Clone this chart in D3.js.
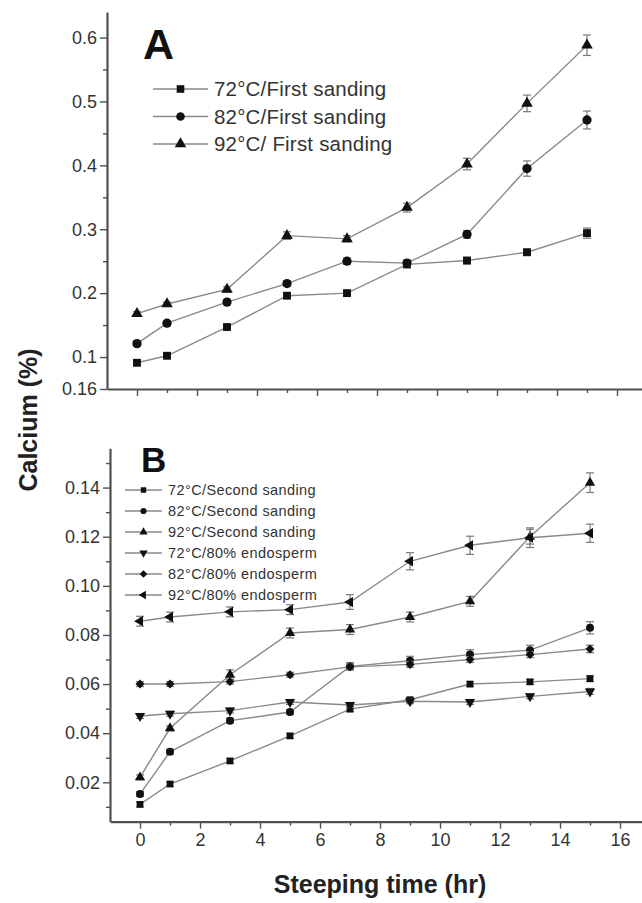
<!DOCTYPE html>
<html>
<head>
<meta charset="utf-8">
<script src="https://cdn.jsdelivr.net/npm/d3@7"></script>
<style>
  body { margin: 0; background: #fff; }
  svg { display: block; font-family: "Liberation Sans", Arial, sans-serif; }
</style>
</head>
<body>
<svg id="chart" width="642" height="903"></svg>
<script>
// steeping hours sampled
const hours = [0, 1, 3, 5, 7, 9, 11, 13, 15];

// panel A: first sanding
const labelsA = ["72°C/First sanding", "82°C/First sanding", "92°C/ First sanding"];
const a72 = [0.091, 0.102, 0.147, 0.196, 0.200, 0.245, 0.251, 0.264, 0.294];
const a82 = [0.121, 0.153, 0.186, 0.215, 0.250, 0.247, 0.292, 0.395, 0.471];
const a92 = [0.168, 0.183, 0.206, 0.290, 0.285, 0.334, 0.402, 0.497, 0.588];
const errA72 = [0.003, 0.003, 0.003, 0.004, 0.004, 0.005, 0.005, 0.005, 0.008];
const errA82 = [0.004, 0.004, 0.004, 0.004, 0.005, 0.005, 0.006, 0.012, 0.014];
const errA92 = [0.003, 0.003, 0.004, 0.006, 0.005, 0.007, 0.009, 0.013, 0.016];
const yTicksA = [0.05, 0.1, 0.2, 0.3, 0.4, 0.5, 0.6];
const yTickLabelsA = ["0.16", "0.1", "0.2", "0.3", "0.4", "0.5", "0.6"];
const yMinorA = [0.15, 0.25, 0.35, 0.45, 0.55];

// panel B: second sanding and 80% endosperm
const labelsB = ["72°C/Second sanding", "82°C/Second sanding", "92°C/Second sanding",
                 "72°C/80% endosperm", "82°C/80% endosperm", "92°C/80% endosperm"];
const b72s = [0.011, 0.0193, 0.0287, 0.0389, 0.0498, 0.0536, 0.0600, 0.0609, 0.0622];
const b82s = [0.0152, 0.0324, 0.0451, 0.0486, 0.0672, 0.0695, 0.0720, 0.0738, 0.0829];
const b92s = [0.022, 0.042, 0.0638, 0.0808, 0.0822, 0.0873, 0.0937, 0.120, 0.142];
const b72e = [0.047, 0.0479, 0.0492, 0.0527, 0.0515, 0.053, 0.0527, 0.055, 0.057];
const b82e = [0.060, 0.060, 0.061, 0.0638, 0.067, 0.068, 0.070, 0.0720, 0.0743];
const b92e = [0.0856, 0.0873, 0.0894, 0.0903, 0.0934, 0.110, 0.1165, 0.1196, 0.1214];
const errB72s = [0.001, 0.001, 0.001, 0.001, 0.001, 0.001, 0.001, 0.001, 0.0012];
const errB82s = [0.001, 0.001, 0.001, 0.001, 0.0015, 0.0018, 0.002, 0.002, 0.0025];
const errB92s = [0.001, 0.001, 0.002, 0.002, 0.002, 0.002, 0.002, 0.003, 0.004];
const errB72e = [0.001, 0.001, 0.001, 0.001, 0.001, 0.001, 0.001, 0.001, 0.0012];
const errB82e = [0.001, 0.001, 0.001, 0.001, 0.0012, 0.0012, 0.0012, 0.0012, 0.0015];
const errB92e = [0.002, 0.002, 0.002, 0.002, 0.003, 0.0035, 0.0037, 0.004, 0.0037];
const yTicksB = [0.02, 0.04, 0.06, 0.08, 0.10, 0.12, 0.14];
const yMinorB = [0.01, 0.03, 0.05, 0.07, 0.09, 0.11, 0.13, 0.15];

const xMajor = [0, 2, 4, 6, 8, 10, 12, 14, 16];
const xMinor = [1, 3, 5, 7, 9, 11, 13, 15];

const lineColor = '#8a8a8a';
const axisColor = '#505050';
const textColor = '#333';

const svg = d3.select('#chart');

function markerPath(type, size) {
    if (type === 'circle') return d3.symbol(d3.symbolCircle, size)();
    if (type === 'square' || type === 'diamond') return d3.symbol(d3.symbolSquare, size)();
    return d3.symbol(d3.symbolTriangle, size)();
}
function markerRotate(type) {
    if (type === 'down') return 180;
    if (type === 'left') return -90;
    if (type === 'diamond') return 45;
    return 0;
}

function drawAxes(g, x, y, opts) {
    const yAxis = g.append('g')
        .attr('transform', `translate(${x.range()[0]},0)`)
        .call(d3.axisLeft(y).tickValues(opts.yMajor).tickSize(7).tickSizeOuter(0)
            .tickPadding(3).tickFormat((d, i) => opts.yLabels[i]));
    g.append('g')
        .attr('transform', `translate(${x.range()[0]},0)`)
        .call(d3.axisLeft(y).tickValues(opts.yMinor).tickSize(4).tickFormat(''))
        .select('.domain').remove();

    const xAxis = g.append('g')
        .attr('transform', `translate(0,${y.range()[0]})`)
        .call(d3.axisBottom(x).tickValues(xMajor).tickSize(7).tickSizeOuter(0)
            .tickPadding(5).tickFormat(opts.xLabels ? d3.format('d') : ''));
    g.append('g')
        .attr('transform', `translate(0,${y.range()[0]})`)
        .call(d3.axisBottom(x).tickValues(xMinor).tickSize(4).tickFormat(''))
        .select('.domain').remove();

    g.selectAll('.domain').attr('stroke', axisColor).attr('stroke-width', 2.2);
    g.selectAll('.tick line').attr('stroke', axisColor).attr('stroke-width', 1.4);
    g.selectAll('.tick text')
        .style('font-size', '18px')
        .style('fill', textColor)
        .style('font-family', '"Liberation Sans", Arial, sans-serif');
}

function drawSeries(g, x, y, values, errs, type, size) {
    const pts = hours.map((h, i) => ({h: h, v: values[i], e: errs[i]}));
    const line = d3.line().x(d => x(d.h)).y(d => y(d.v));
    g.append('path')
        .datum(pts)
        .attr('d', line)
        .attr('fill', 'none')
        .attr('stroke', lineColor)
        .attr('stroke-width', 1.4);

    const eb = g.append('g').attr('stroke', '#7a7a7a').attr('stroke-width', 1.2);
    eb.selectAll('.eb').data(pts).join('line')
        .attr('x1', d => x(d.h)).attr('x2', d => x(d.h))
        .attr('y1', d => y(d.v - d.e)).attr('y2', d => y(d.v + d.e));
    eb.selectAll('.capTop').data(pts).join('line')
        .attr('x1', d => x(d.h) - 4).attr('x2', d => x(d.h) + 4)
        .attr('y1', d => y(d.v + d.e)).attr('y2', d => y(d.v + d.e));
    eb.selectAll('.capBot').data(pts).join('line')
        .attr('x1', d => x(d.h) - 4).attr('x2', d => x(d.h) + 4)
        .attr('y1', d => y(d.v - d.e)).attr('y2', d => y(d.v - d.e));

    g.append('g').selectAll('path').data(pts).join('path')
        .attr('d', markerPath(type, size))
        .attr('transform', d => `translate(${x(d.h)},${y(d.v)}) rotate(${markerRotate(type)})`)
        .attr('fill', '#111');
}

function drawLegend(g, labels, types, opts) {
    labels.forEach((lab, i) => {
        const yy = opts.top + i * opts.step;
        g.append('line')
            .attr('x1', opts.x1).attr('x2', opts.x2)
            .attr('y1', yy).attr('y2', yy)
            .attr('stroke', lineColor).attr('stroke-width', 1.4);
        g.append('path')
            .attr('d', markerPath(types[i], opts.size))
            .attr('transform', `translate(${(opts.x1 + opts.x2) / 2},${yy}) rotate(${markerRotate(types[i])})`)
            .attr('fill', '#111');
        g.append('text')
            .attr('x', opts.x2 + 6)
            .attr('y', yy)
            .attr('dy', '0.36em')
            .style('font-size', opts.fontSize)
            .style('letter-spacing', opts.spacing)
            .style('fill', textColor)
            .text(lab);
    });
}

// ---- Panel A ----
const gA = svg.append('g');
const xA = d3.scaleLinear().domain([-1, 17]).range([107, 647]);
const yA = d3.scaleLinear().domain([0.05, 0.64]).range([389, 12]);
drawAxes(gA, xA, yA, {yMajor: yTicksA, yLabels: yTickLabelsA, yMinor: yMinorA, xLabels: false});
drawSeries(gA, xA, yA, a72, errA72, 'square', 62);
drawSeries(gA, xA, yA, a82, errA82, 'circle', 68);
drawSeries(gA, xA, yA, a92, errA92, 'triangle', 58);
drawLegend(gA, labelsA, ['square', 'circle', 'triangle'],
    {top: 89, step: 27.5, x1: 153, x2: 208, size: 58, fontSize: '20.5px', spacing: '0.2px'});
gA.append('text')
    .attr('x', 143).attr('y', 59)
    .style('font-size', '43px').style('font-weight', 'bold').style('fill', '#111')
    .text('A');

// ---- Panel B ----
const gB = svg.append('g');
const xB = d3.scaleLinear().domain([-1, 17]).range([110, 650]);
const yB = d3.scaleLinear().domain([0.004, 0.156]).range([821.6, 448.3]);
drawAxes(gB, xB, yB, {yMajor: yTicksB, yLabels: yTicksB.map(d3.format('.2f')), yMinor: yMinorB, xLabels: true});
drawSeries(gB, xB, yB, b72s, errB72s, 'square', 46);
drawSeries(gB, xB, yB, b82s, errB82s, 'circle', 50);
drawSeries(gB, xB, yB, b92s, errB92s, 'triangle', 46);
drawSeries(gB, xB, yB, b72e, errB72e, 'down', 46);
drawSeries(gB, xB, yB, b82e, errB82e, 'diamond', 40);
drawSeries(gB, xB, yB, b92e, errB92e, 'left', 46);
drawLegend(gB, labelsB, ['square', 'circle', 'triangle', 'down', 'diamond', 'left'],
    {top: 490, step: 21, x1: 125, x2: 162, size: 30, fontSize: '14.5px', spacing: '0.4px'});
gB.append('text')
    .attr('x', 141).attr('y', 472)
    .style('font-size', '35px').style('font-weight', 'bold').style('fill', '#111')
    .text('B');

// ---- Axis titles ----
svg.append('text')
    .attr('x', 380).attr('y', 893)
    .attr('text-anchor', 'middle')
    .style('font-size', '25px').style('font-weight', 'bold').style('fill', '#222')
    .text('Steeping time (hr)');
svg.append('text')
    .attr('transform', 'translate(37,420) rotate(-90)')
    .attr('text-anchor', 'middle')
    .style('font-size', '25px').style('font-weight', 'bold').style('fill', '#222')
    .text('Calcium (%)');
</script>
</body>
</html>
